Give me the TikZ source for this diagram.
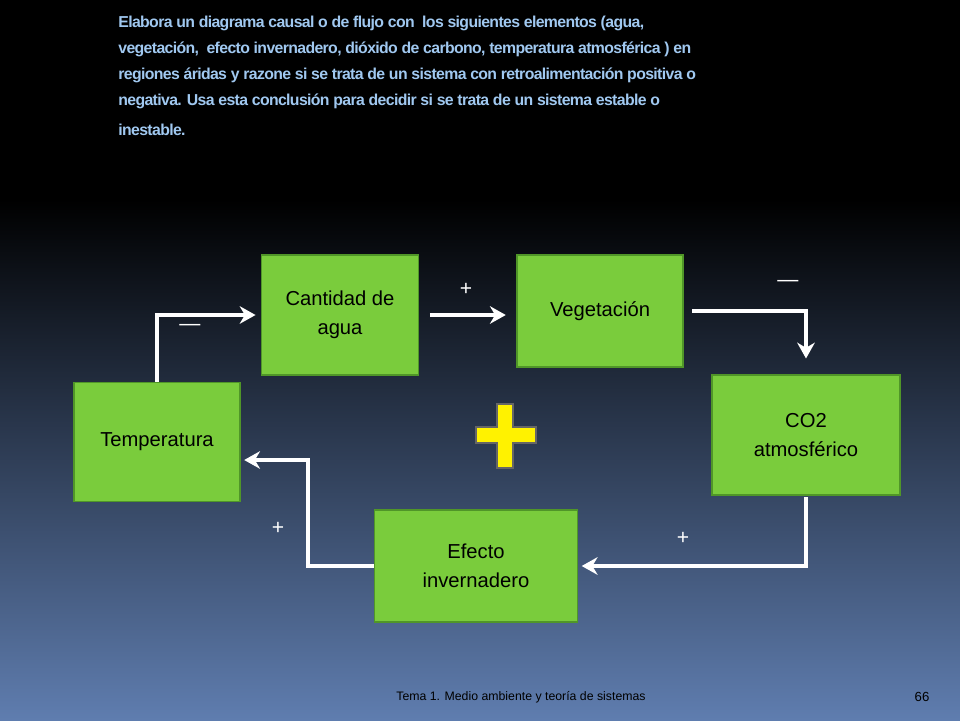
\documentclass[tikz,border=0pt]{standalone}
\usepackage{fontspec}
\setmainfont{Liberation Sans}
\usetikzlibrary{arrows.meta}
\definecolor{boxgreen}{RGB}{122,204,60}
\definecolor{boxedge}{RGB}{80,150,40}
\definecolor{titleblue}{RGB}{160,200,240}
\definecolor{bottomblue}{RGB}{95,125,175}
\begin{document}
\begin{tikzpicture}[x=0.02cm,y=-0.02cm,
  caja/.style={draw=boxedge,fill=boxgreen,line width=0.8pt,align=center,font=\fontsize{11.5}{16.5}\selectfont},
  flecha/.style={draw=white,line width=2pt,-{Stealth[length=9pt,width=10pt]}},
  signo/.style={text=white,font=\fontsize{12}{13}\selectfont}]
\fill[black] (0,0) rectangle (960,200);
\shade[top color=black,bottom color=bottomblue] (0,199) rectangle (960,720);
\useasboundingbox (0,0) rectangle (960,720);
% titulo
\node[anchor=north west,text=titleblue,align=left,font=\bfseries\fontsize{9}{14.8}\selectfont\addfontfeatures{LetterSpace=-4},inner sep=0pt] (titulo) at (118,16)
{Elabora un diagrama causal o de flujo con\ \ los siguientes elementos (agua,\\
vegetación,\ \ efecto invernadero, dióxido de carbono, temperatura atmosférica ) en\\
regiones áridas y razone si se trata de un sistema con retroalimentación positiva o\\
negativa. Usa esta conclusión para decidir si se trata de un sistema estable o\\[2pt]
inestable.};
% cajas
\node[caja,minimum width=157*0.02cm,minimum height=120*0.02cm] (agua) at (340,315) {Cantidad de\\agua};
\node[caja,minimum width=166*0.02cm,minimum height=112*0.02cm] (veg) at (600,311) {Vegetación};
\node[caja,minimum width=188*0.02cm,minimum height=120*0.02cm] (co2) at (806,435) {CO2\\atmosférico};
\node[caja,minimum width=203*0.02cm,minimum height=112*0.02cm] (efecto) at (476,566) {Efecto\\invernadero};
\node[caja,minimum width=166*0.02cm,minimum height=119*0.02cm] (temp) at (157,442) {Temperatura};
% flechas
\draw[flecha,shorten >=3pt] (temp.north) |- (agua.west);
\draw[flecha,shorten <=6pt,shorten >=6pt] (agua.east) -- (veg.west |- agua.east);
\draw[flecha,shorten <=5pt,shorten >=9pt] (veg.east) -| (co2.north);
\draw[flecha,shorten <=1pt,shorten >=2pt] (co2.south) |- (efecto.east);
\draw[flecha,shorten >=2pt] (efecto.west) -| (308,460) -- (temp.east |- 0,460);
% signos
\node[signo] (s1) at (466,289) {+};
\node[signo] (s2) at (788,283) {---};
\node[signo] (s3) at (190,327) {---};
\node[signo] (s4) at (683,538) {+};
\node[signo] (s5) at (278,528) {+};
% cruz amarilla
\fill[yellow,draw=black!60,line width=0.6pt] (497,404) -- (513,404) -- (513,427) -- (536,427) -- (536,443) -- (513,443) -- (513,468) -- (497,468) -- (497,443) -- (476,443) -- (476,427) -- (497,427) -- cycle;
% pie
\node[text=black,font=\fontsize{7}{8}\selectfont] (pie) at (521,697) {Tema 1. Medio ambiente y teoría de sistemas};
\node[text=black,font=\fontsize{7.5}{8}\selectfont] (num) at (922,697) {66};
\end{tikzpicture}
\end{document}
